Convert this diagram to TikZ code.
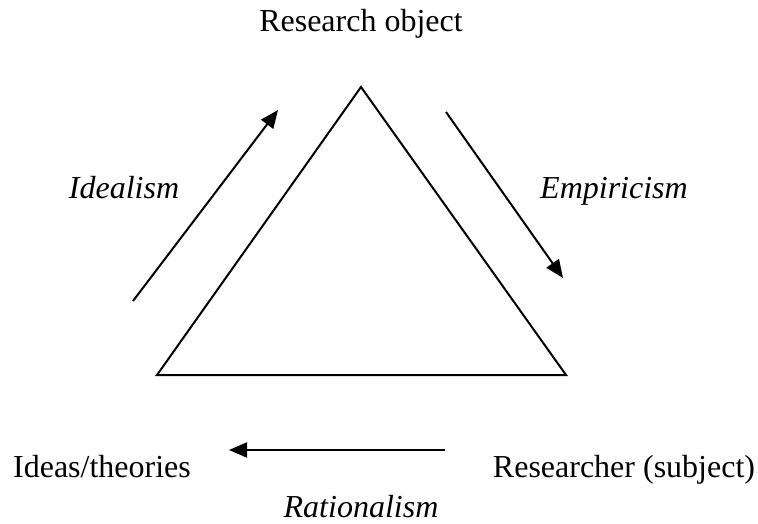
\documentclass[tikz,border=0pt]{standalone}
\usepackage{fontspec}
\setmainfont{Liberation Serif}
\usetikzlibrary{arrows.meta}
\begin{document}
\begin{tikzpicture}[x=1pt,y=-1pt,
  lbl/.style={inner sep=0pt,anchor=base,font=\fontsize{32}{38}\selectfont},
  ilbl/.style={lbl,font=\fontsize{32}{38}\selectfont\itshape},
  edge/.style={line width=2pt},
  arr/.style={line width=2pt,-{Triangle[length=18pt,width=15pt]}}]
\useasboundingbox (0,0) rectangle (758,524);
\coordinate (top) at (361,87);
\coordinate (bl) at (157,375);
\coordinate (br) at (566,375);
\draw[edge,line join=miter] (top) -- (br) -- (bl) -- cycle;
\coordinate (i1) at (133,301);
\coordinate (i2) at (278,110);
\coordinate (e1) at (446,112);
\coordinate (e2) at (563,278);
\coordinate (r1) at (445,450);
\coordinate (r2) at (229,450);
\draw[arr] (i1) -- (i2);
\draw[arr] (e1) -- (e2);
\draw[arr] (r1) -- (r2);
\node[lbl] (ro) at (361,32) {Research object};
\node[ilbl] (id) at (124,199) {Idealism};
\node[ilbl] (em) at (614,199) {Empiricism};
\node[lbl] (it) at (102,477) {Ideas/theories};
\node[lbl] (rs) at (624,477) {Researcher (subject)};
\node[ilbl] (ra) at (361,517) {Rationalism};
\end{tikzpicture}
\end{document}
